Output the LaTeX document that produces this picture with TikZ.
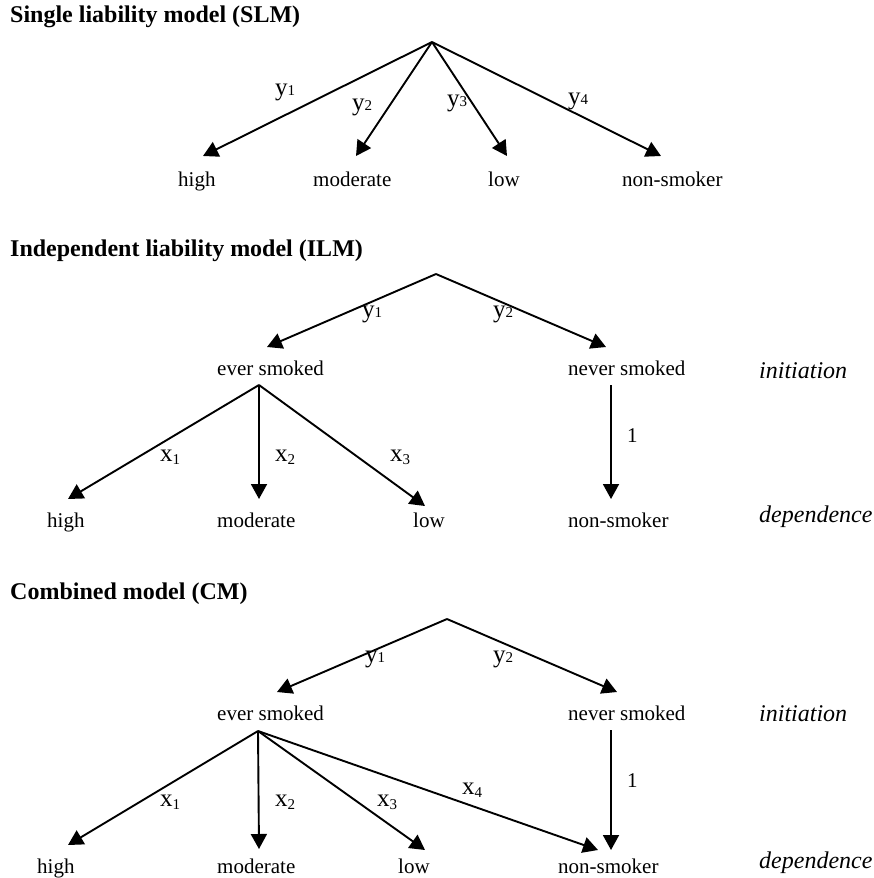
\documentclass[tikz,border=0pt]{standalone}
\usepackage{fontspec}
\setmainfont{Liberation Serif}
\usetikzlibrary{arrows.meta}
\newcommand{\lsub}[1]{\raisebox{-3pt}{\fontsize{15}{15}\selectfont #1}}
\newcommand{\lsubh}[1]{\raisebox{-0.5pt}{\fontsize{15}{15}\selectfont #1}}
\begin{document}
\begin{tikzpicture}[x=1pt,y=-1pt,
  arr/.style={line width=1.9pt, -{Triangle[length=15pt,width=16pt]}},
  txt/.style={inner sep=0pt, anchor=base west, font=\fontsize{21}{25}\selectfont},
  lab/.style={inner sep=0pt, anchor=base west, font=\fontsize{25}{28}\selectfont},
  ttl/.style={inner sep=0pt, anchor=base west, font=\fontsize{24}{28}\selectfont\bfseries},
  lvl/.style={inner sep=0pt, anchor=base west, font=\fontsize{24}{28}\selectfont\itshape}]
\useasboundingbox (0,0) rectangle (874,878);

% ---------- SLM ----------
\node[ttl] (t1) at (10,22) {Single liability model (SLM)};
\coordinate (r1) at (432,42);
\coordinate (h1) at (203,156);
\coordinate (m1) at (356,156);
\coordinate (l1) at (507,156);
\coordinate (n1) at (661,156);
\node[txt] (high1) at (178,186) {high};
\node[txt] (mod1) at (313,186) {moderate};
\node[txt] (low1) at (488,186) {low};
\node[txt] (non1) at (622,186) {non-smoker};
\draw[arr] (r1) -- (h1);
\draw[arr] (r1) -- (m1);
\draw[arr] (r1) -- (l1);
\draw[arr] (r1) -- (n1);
\node[lab] (ya1) at (275,95) {y\lsubh{1}};
\node[lab] (ya2) at (352,110) {y\lsubh{2}};
\node[lab] (ya3) at (447,106) {y\lsubh{3}};
\node[lab] (ya4) at (568,104) {y\lsubh{4}};

% ---------- ILM ----------
\node[ttl] (t2) at (10,256) {Independent liability model (ILM)};
\coordinate (r2) at (436,274);
\coordinate (es2tip) at (267,347);
\coordinate (ns2tip) at (606,347);
\node[txt] (es2) at (217,375) {ever smoked};
\node[txt] (ns2) at (568,375) {never smoked};
\node[lvl] (ini2) at (759,378) {initiation};
\draw[arr] (r2) -- (es2tip);
\draw[arr] (r2) -- (ns2tip);
\node[lab] (yb1) at (362,317) {y\lsubh{1}};
\node[lab] (yb2) at (493,317) {y\lsubh{2}};
\coordinate (e2) at (259,385);
\coordinate (h2) at (68,499);
\coordinate (m2) at (259,499);
\coordinate (l2) at (425,506);
\coordinate (ns2b) at (611,385);
\coordinate (n2) at (611,499);
\draw[arr] (e2) -- (h2);
\draw[arr] (e2) -- (m2);
\draw[arr] (e2) -- (l2);
\draw[arr] (ns2b) -- (n2);
\node[lab] (xb1) at (160,461) {x\lsub{1}};
\node[lab] (xb2) at (275,461) {x\lsub{2}};
\node[lab] (xb3) at (390,461) {x\lsub{3}};
\node[txt] (one2) at (627,442) {1};
\node[txt] (high2) at (47,527) {high};
\node[txt] (mod2) at (217,527) {moderate};
\node[txt] (low2) at (413,527) {low};
\node[txt] (non2) at (568,527) {non-smoker};
\node[lvl] (dep2) at (759,522) {dependence};

% ---------- CM ----------
\node[ttl] (t3) at (10,599) {Combined model (CM)};
\coordinate (r3) at (447,619);
\coordinate (es3tip) at (277,692);
\coordinate (ns3tip) at (617,692);
\node[txt] (es3) at (217,720) {ever smoked};
\node[txt] (ns3) at (568,720) {never smoked};
\node[lvl] (ini3) at (759,721) {initiation};
\draw[arr] (r3) -- (es3tip);
\draw[arr] (r3) -- (ns3tip);
\node[lab] (yc1) at (365,662) {y\lsubh{1}};
\node[lab] (yc2) at (493,662) {y\lsubh{2}};
\coordinate (e3) at (258,731);
\coordinate (h3) at (68,845);
\coordinate (m3) at (259,849);
\coordinate (l3) at (425,850);
\coordinate (n3x) at (598,850);
\coordinate (ns3b) at (611,730);
\coordinate (n3) at (611,850);
\draw[arr] (e3) -- (h3);
\draw[arr] (e3) -- (m3);
\draw[arr] (e3) -- (l3);
\draw[arr] (e3) -- (n3x);
\draw[arr] (ns3b) -- (n3);
\node[lab] (xc1) at (160,806) {x\lsub{1}};
\node[lab] (xc2) at (275,806) {x\lsub{2}};
\node[lab] (xc3) at (377,806) {x\lsub{3}};
\node[lab] (xc4) at (462,794) {x\lsub{4}};
\node[txt] (one3) at (627,787) {1};
\node[txt] (high3) at (37,873) {high};
\node[txt] (mod3) at (217,873) {moderate};
\node[txt] (low3) at (398,873) {low};
\node[txt] (non3) at (558,873) {non-smoker};
\node[lvl] (dep3) at (759,868) {dependence};
\end{tikzpicture}
\end{document}
